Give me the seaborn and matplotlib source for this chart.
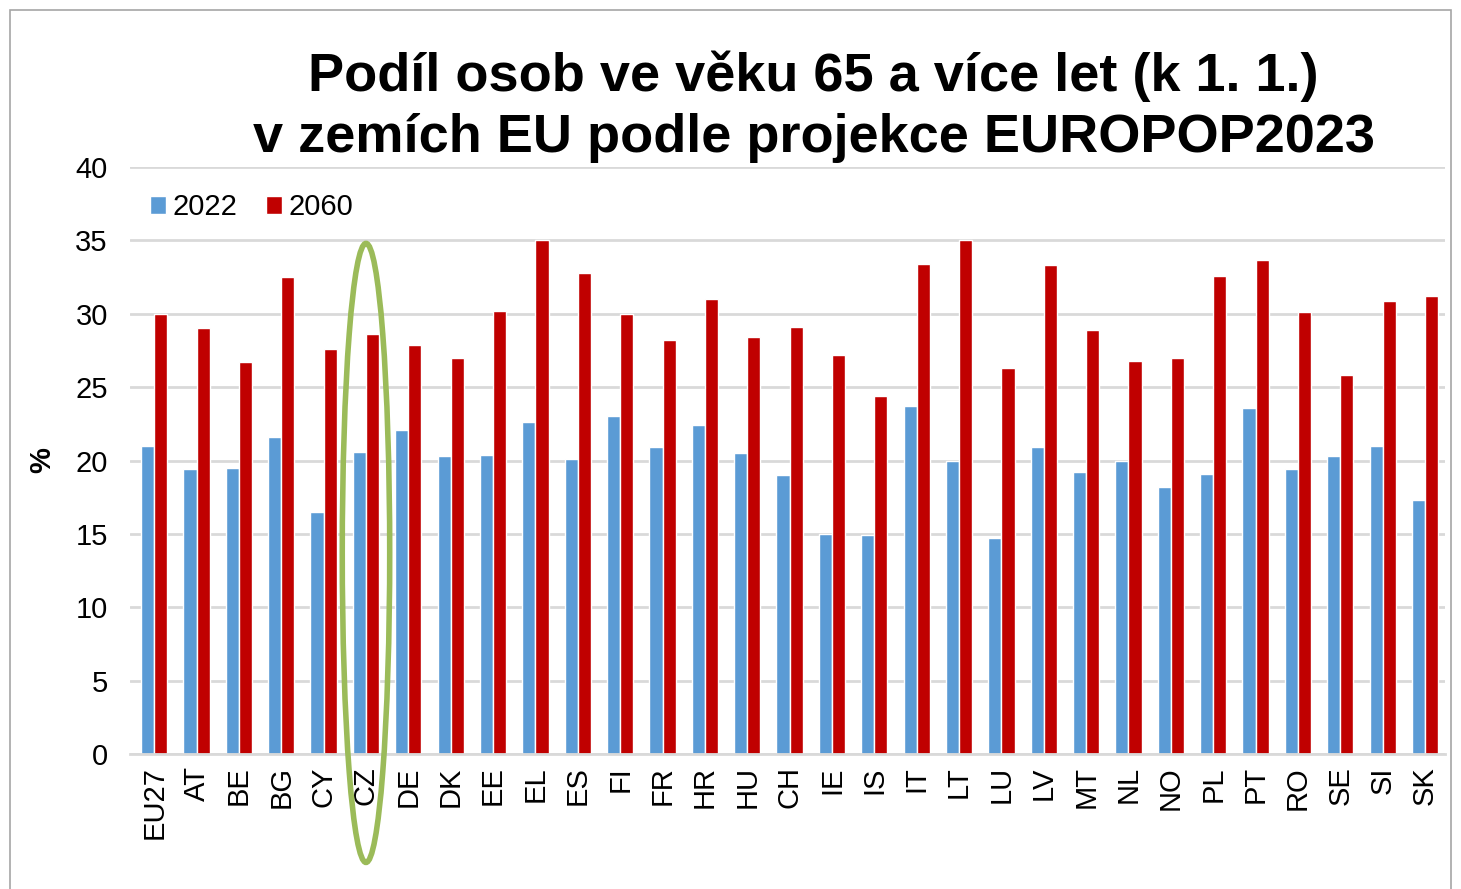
import matplotlib
matplotlib.use("Agg")
import matplotlib.pyplot as plt
from matplotlib.patches import Ellipse, Rectangle
import seaborn as sns
import pandas as pd

countries = ["EU27", "AT", "BE", "BG", "CY", "CZ", "DE", "DK", "EE", "EL", "ES",
             "FI", "FR", "HR", "HU", "CH", "IE", "IS", "IT", "LT", "LU", "LV",
             "MT", "NL", "NO", "PL", "PT", "RO", "SE", "SI", "SK"]
share_2022 = [21.0, 19.4, 19.5, 21.6, 16.5, 20.6, 22.1, 20.3, 20.4, 22.6, 20.1,
              23.0, 20.9, 22.4, 20.5, 19.0, 15.0, 14.9, 23.7, 20.0, 14.7, 20.9,
              19.2, 20.0, 18.2, 19.1, 23.6, 19.4, 20.3, 21.0, 17.3]
share_2060 = [30.0, 29.0, 26.7, 32.5, 27.6, 28.6, 27.9, 27.0, 30.2, 35.0, 32.8,
              30.0, 28.2, 31.0, 28.4, 29.1, 27.2, 24.4, 33.4, 35.0, 26.3, 33.3,
              28.9, 26.8, 27.0, 32.6, 33.7, 30.1, 25.8, 30.9, 31.2]
years = ["2022", "2060"]
yticks = [0, 5, 10, 15, 20, 25, 30, 35, 40]
title = "Podíl osob ve věku 65 a více let (k 1. 1.)\nv zemích EU podle projekce EUROPOP2023"

df = pd.DataFrame({
    "country": countries * 2,
    "value": share_2022 + share_2060,
    "year": [years[0]] * len(countries) + [years[1]] * len(countries),
})

sns.set_style("white")
plt.rcParams["font.family"] = ["Liberation Sans", "DejaVu Sans"]
plt.rcParams["text.color"] = "black"
plt.rcParams["xtick.color"] = "black"
plt.rcParams["ytick.color"] = "black"
plt.rcParams["axes.labelcolor"] = "black"

fig = plt.figure(figsize=(14.61, 8.89), dpi=100)
ax = fig.add_axes([0.089, 0.152, 0.900, 0.660])

sns.barplot(data=df, x="country", y="value", hue="year",
            palette=["#5B9BD5", "#C00000"], width=0.62, gap=0,
            saturation=1, ax=ax)

ax.set_ylim(0, 40)
ax.set_xlim(-0.57, len(countries) - 0.53)
ax.set_yticks(yticks)
ax.yaxis.grid(True, color="#D9D9D9", linewidth=2)
ax.set_axisbelow(True)
for side in ["top", "right", "left"]:
    ax.spines[side].set_visible(False)
ax.spines["bottom"].set_color("#D9D9D9")
ax.spines["bottom"].set_linewidth(2)
ax.tick_params(axis="y", labelsize=21, length=0, pad=16)
ax.tick_params(axis="x", labelsize=21, length=0, pad=9, rotation=90)
ax.set_xlabel("")
ax.set_ylabel("%", fontsize=21, fontweight="bold", labelpad=14)

ax.legend(loc="upper left", bbox_to_anchor=(0.0, 0.99), ncol=2, frameon=False,
          fontsize=21, handlelength=0.55, handleheight=0.55, handletextpad=0.2,
          columnspacing=1.0, borderaxespad=0.3)

# highlight Czech Republic
cz = countries.index("CZ")
ax.add_patch(Ellipse((cz, 13.7), width=1.12, height=42.2, fill=False,
                     edgecolor="#9BBB59", linewidth=4, clip_on=False, zorder=5))

fig.text(0.557, 0.817, title, ha="center", va="bottom", fontsize=39,
         fontweight="bold", linespacing=1.28)

fig.patches.append(Rectangle((0.007, -0.1), 0.986, 1.089, transform=fig.transFigure,
                             fill=False, edgecolor="#A6A6A6", linewidth=1.2))

fig.savefig("out.png", dpi=100)
